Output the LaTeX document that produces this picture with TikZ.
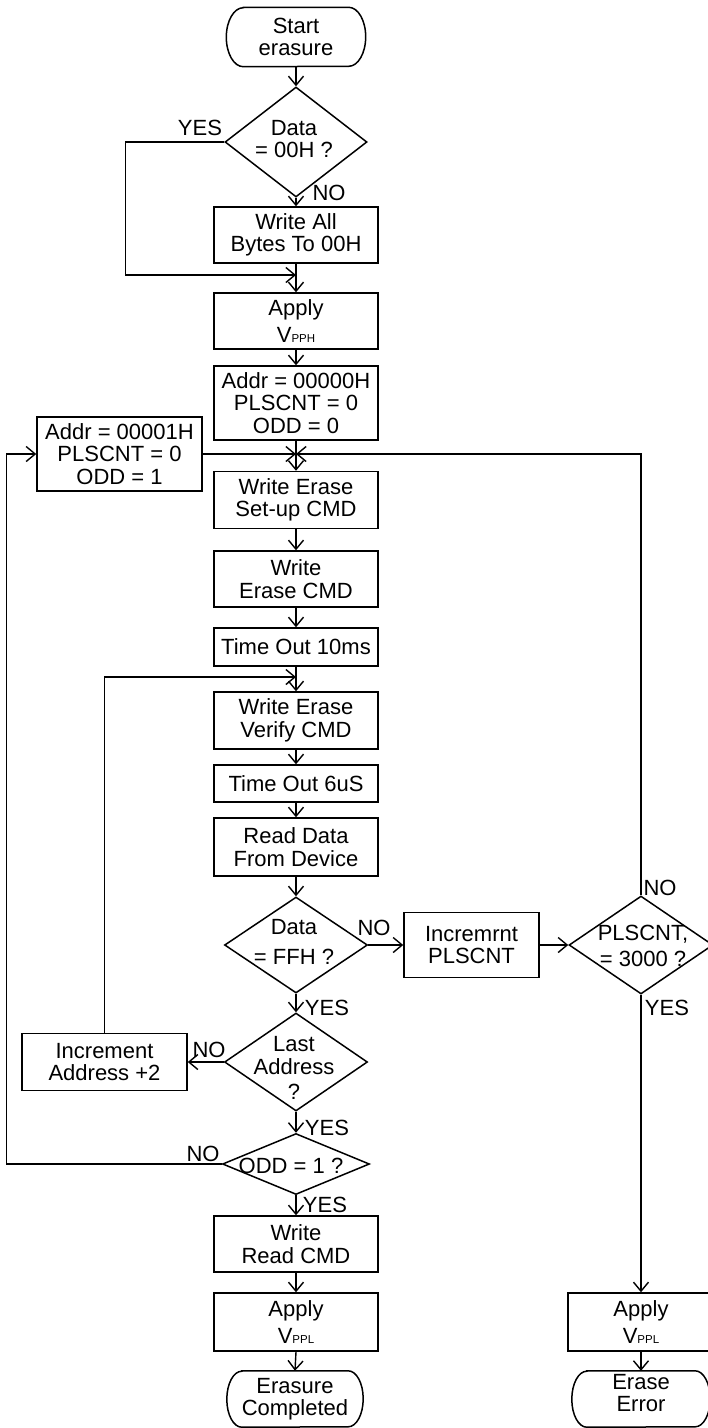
\documentclass[tikz,border=0pt]{standalone}
\usepackage{fontspec}
\setmainfont{Liberation Sans}
\usetikzlibrary{arrows.meta,shapes.geometric}
\begin{document}
\begin{tikzpicture}[x=1pt,y=-1pt,
  every node/.style={font=\fontsize{22}{22.5}\selectfont},
  box/.style={draw,line width=1.5pt,inner sep=0pt,align=center,minimum width=164pt},
  term/.style={inner sep=0pt,align=center},
  dia/.style={draw,diamond,line width=1.5pt,inner sep=0pt},
  txt/.style={inner sep=0pt,align=center},
  lbl/.style={inner sep=0pt},
  outline/.style={line width=1.5pt},
  arr/.style={line width=1.4pt,-{Straight Barb[length=9pt,width=15pt,line width=1.4pt]}}]
\newcommand{\sub}[1]{{\fontsize{11.5}{12}\selectfont #1}}
\newcommand{\termline}[3]{% node name, bulge, half height
  \draw[outline] ([xshift=#2]#1.north west) -- ([xshift=-#2]#1.north east)
    arc[start angle=90,end angle=-90,x radius=#2,y radius=#3]
    -- ([xshift=#2]#1.south west)
    arc[start angle=270,end angle=90,x radius=#2,y radius=#3] -- cycle;}
\useasboundingbox (0,0) rectangle (708,1428);

% main column
\node[term,minimum width=139pt,minimum height=59pt] (start) at (296,37) {Start\\erasure};
\node[dia,minimum width=142pt,minimum height=110pt] (d1) at (296,142) {};
\node[txt] (d1t) at (294,139) {Data\\= 00H ?};
\node[box,minimum height=56pt] (wab) at (296,235) {Write All\\Bytes To 00H};
\node[box,minimum height=56pt] (apH) at (296,321) {Apply\\[4pt]V\sub{PPH}};
\node[box,minimum height=74pt] (a0) at (296,403) {Addr = 00000H\\PLSCNT = 0\\ODD = 0};
\node[box,minimum width=165pt,minimum height=74pt] (a1) at (119.5,454) {Addr = 00001H\\PLSCNT = 0\\ODD = 1};
\node[box,minimum height=57pt] (wes) at (296,500) {Write Erase\\Set-up CMD};
\node[box,minimum height=56pt] (wec) at (296,579) {Write\\Erase CMD};
\node[box,minimum height=38pt] (to10) at (296,647) {Time Out 10ms};
\node[box,minimum height=57pt] (wev) at (296,720.5) {Write Erase\\Verify CMD};
\node[box,minimum height=37pt] (to6) at (296,783.5) {Time Out 6uS};
\node[box,minimum height=58pt] (rd) at (296,847) {Read Data\\From Device};
\node[dia,minimum width=143pt,minimum height=96pt] (d2) at (296,945) {};
\node[txt] (d2t) at (294,942) {Data\\[8pt]= FFH ?};
\node[box,minimum width=135pt,minimum height=65pt] (inc) at (471.5,945) {Incremrnt\\PLSCNT};
\node[dia,minimum width=144pt,minimum height=98pt] (d3) at (641,945) {};
\node[txt] (d3t) at (643,946) {PLSCNT,\\[3pt]= 3000 ?};
\node[dia,minimum width=143pt,minimum height=98pt] (d4) at (296,1062) {};
\node[txt] (d4t) at (294,1068) {Last\\Address\\[3pt]?};
\node[box,minimum width=165pt,minimum height=57pt] (incA) at (104.5,1062) {Increment\\Address +2};
\node[dia,minimum width=147pt,minimum height=61pt] (d5) at (296,1164) {};
\node[txt] (d5t) at (291,1166) {ODD = 1 ?};
\node[box,minimum height=56pt] (wrc) at (296,1244) {Write\\Read CMD};
\node[box,minimum height=58pt] (apL) at (296,1322) {Apply\\[4pt]V\sub{PPL}};
\node[term,minimum width=136pt,minimum height=56pt] (done) at (295,1399) {Erasure\\Completed};
\node[box,minimum width=146pt,minimum height=58pt] (apR) at (641,1322) {Apply\\[4pt]V\sub{PPL}};
\node[term,minimum width=138pt,minimum height=56pt] (err) at (641,1399) {};
\node[txt] (errt) at (641,1393) {Erase\\Error};

% terminal outlines
\termline{start}{17pt}{29.5pt}
\termline{done}{15pt}{28pt}
\termline{err}{15pt}{28pt}

% junctions
\coordinate (j1) at (296,275);
\coordinate (j2) at (296,454);
\coordinate (j3) at (296,677);

% connectors
\draw[arr] (start.south) -- (d1.north);
\draw[arr] (d1.south) -- (wab.north);
\draw[arr] (d1.west) -- ++(-99,0) |- (j1);
\draw[arr] (wab.south) -- (apH.north);
\draw[arr] (apH.south) -- (a0.north);
\draw[arr] (a0.south) -- (wes.north);
\draw[arr] (a1.east) -- (j2);
\draw[arr] (d3.north) |- (j2);
\draw[arr] (wes.south) -- (wec.north);
\draw[arr] (wec.south) -- (to10.north);
\draw[arr] (to10.south) -- (wev.north);
\draw[arr] (incA.north) |- (j3);
\draw[arr] (wev.south) -- (to6.north);
\draw[arr] (to6.south) -- (rd.north);
\draw[arr] (rd.south) -- (d2.north);
\draw[arr] (d2.east) -- (inc.west);
\draw[arr] (inc.east) -- (d3.west);
\draw[arr] (d3.south) -- (apR.north);
\draw[arr] (apR.south) -- (err.north);
\draw[arr] (d2.south) -- (d4.north);
\draw[arr] (d4.west) -- (incA.east);
\draw[arr] (d4.south) -- (d5.north);
\draw[arr] (d5.west) -- ++(-215.5,0) |- (a1.west);
\draw[arr] (d5.south) -- (wrc.north);
\draw[arr] (wrc.south) -- (apL.north);
\draw[arr] (apL.south) -- (done.north);

% branch labels
\node[lbl] (y1) at (200,128) {YES};
\node[lbl] (n1) at (329,193) {NO};
\node[lbl] (n2) at (374,928) {NO};
\node[lbl] (n3) at (660,888) {NO};
\node[lbl] (y3) at (667,1008) {YES};
\node[lbl] (y2) at (327,1008) {YES};
\node[lbl] (n4) at (209,1050) {NO};
\node[lbl] (y4) at (327,1128) {YES};
\node[lbl] (n5) at (203,1154) {NO};
\node[lbl] (y5) at (325,1205) {YES};
\end{tikzpicture}
\end{document}
